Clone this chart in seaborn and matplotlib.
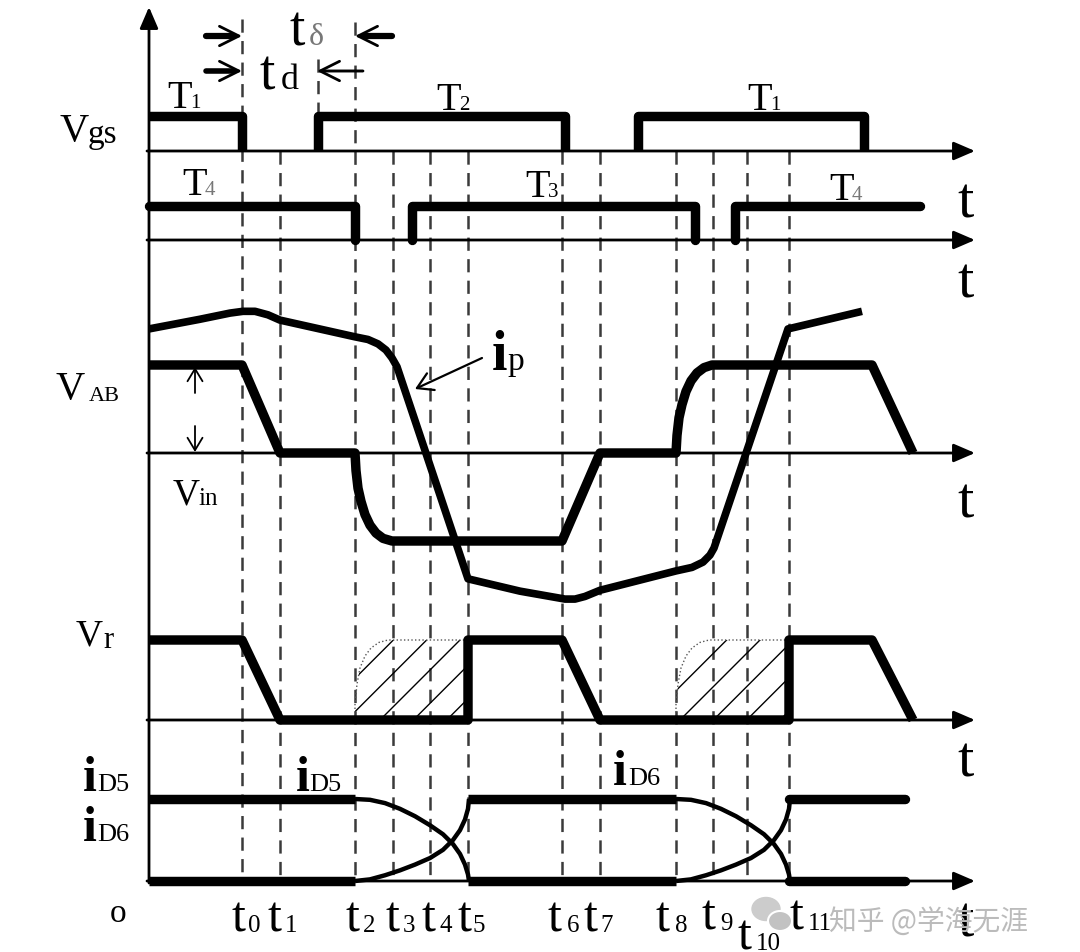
import matplotlib
matplotlib.use('Agg')
import matplotlib.pyplot as plt
from matplotlib.patches import Ellipse
import seaborn as sns

sns.set_style('white')
plt.rcParams['font.family'] = ['Liberation Serif', 'DejaVu Serif']
plt.rcParams['hatch.linewidth'] = 1.0
plt.rcParams['lines.scale_dashes'] = False

# ---------------- data ----------------
# time axis (figure units): origin, arrow tip and switching instants t0..t11
t_origin, t_tip = 149, 975
t_marks = [242, 280, 355, 393, 430, 468, 562, 600, 676, 713, 747, 789]
t_subs = ['0', '1', '2', '3', '4', '5', '6', '7', '8', '9', '10', '11']

# gate signals (level 0/1), one list per pulse
gate1_t = [[149, 242, 242], [318, 318, 565, 565], [638, 638, 864, 864]]
gate1_v = [[1, 1, 0], [0, 1, 1, 0], [0, 1, 1, 0]]
gate2_t = [[149, 355, 355], [412, 412, 695, 695], [735, 735, 920]]
gate2_v = [[1, 1, 0], [0, 1, 1, 0], [0, 1, 1]]

# bridge voltage V_AB (+1 / -1 = +-Vin)
vab_t = [149, 242, 280, 355, 356, 358, 361, 365, 370, 376, 383, 392,
         562, 600, 676, 677, 679, 682, 686, 691, 697, 704, 712, 872, 913]
vab_v = [1, 1, 0, 0, -0.2, -0.4, -0.55, -0.7, -0.82, -0.91, -0.97, -1,
         -1, 0, 0, 0.2, 0.4, 0.55, 0.7, 0.82, 0.91, 0.97, 1, 1, 0]

# primary current i_p (same units as V_AB)
ip_t = [149, 200, 230, 243, 255, 268, 280, 355, 368, 378, 386, 392, 397,
        468, 520, 565, 575, 585, 600, 676, 692, 703, 710, 714, 788, 862]
ip_v = [1.41, 1.52, 1.59, 1.61, 1.61, 1.57, 1.51, 1.32, 1.29, 1.24, 1.17, 1.08, 0.98,
        -1.43, -1.57, -1.66, -1.66, -1.63, -1.56, -1.34, -1.30, -1.24, -1.16, -1.08,
        1.41, 1.61]

# rectified voltage V_r
vr_t = [149, 242, 280, 468, 468, 562, 600, 789, 789, 872, 913]
vr_v = [1, 1, 0, 0, 1, 1, 0, 0, 1, 1, 0]
# hatched commutation area (offset from t2 / t8)
hatch_dt = [0, 0, 2, 5, 10, 16, 24, 33, 113, 113]
hatch_v = [0, 0.2, 0.45, 0.65, 0.8, 0.9, 0.97, 1, 1, 0]
hatch_from = [355, 676]

# rectifier diode currents
id_flat_t = [[149, 355], [468, 676], [789, 905]]
id5_flat_v = [1, 0, 1]
id6_flat_v = [0, 1, 0]
curve_dt = [0, 15, 30, 45, 60, 75, 88, 98, 105, 110, 113, 114]
curve_fall = [1, 0.99, 0.95, 0.88, 0.79, 0.68, 0.57, 0.45, 0.33, 0.20, 0.08, 0]
curve_rise = [0, 0.02, 0.07, 0.13, 0.20, 0.28, 0.38, 0.50, 0.62, 0.75, 0.88, 1]
curve_from = [355, 676]

# ---------------- layout (figure pixels) ----------------
G1_Y0, G1_H = 152, 35
G2_Y0, G2_H = 241, 34
VAB_Y0, VAB_H = 454, 88
VR_Y0, VR_H = 721, 80
ID_Y0, ID_H = 882, 82
AXES_Y = [G1_Y0, G2_Y0, VAB_Y0, VR_Y0, ID_Y0]
THICK = 6.8


def to_y(levels, y0, h):
    return [y0 - v * h for v in levels]


fig = plt.figure(figsize=(10.8, 9.53), dpi=100)
ax = fig.add_axes([0, 0, 1, 1])


def trace(xs, ys, lw=THICK, cap='butt', **kw):
    sns.lineplot(x=xs, y=ys, ax=ax, sort=False, estimator=None, color='black',
                 linewidth=lw, solid_joinstyle='round', solid_capstyle=cap,
                 zorder=4, legend=False, **kw)


# dashed time markers
dash_top = [20, 152, 23, 152, 152, 152, 152, 152, 152, 152, 152, 152]
ax.vlines(t_marks, dash_top, ID_Y0, colors='#3a3a3a', linestyles=(0, (9.5, 6)),
          lw=1.8, zorder=1)
ax.vlines([318], 60, 117, colors='#3a3a3a', linestyles=(0, (9.5, 6)), lw=1.8, zorder=1)

# axes with arrow heads
arrow = dict(arrowstyle='-|>,head_length=0.65,head_width=0.28', lw=2, color='black',
             shrinkA=0, shrinkB=0, mutation_scale=20)
for y in AXES_Y:
    ax.annotate('', xy=(t_tip, y), xytext=(t_origin - 2, y), arrowprops=arrow, zorder=2)
ax.annotate('', xy=(t_origin, 8), xytext=(t_origin, ID_Y0 + 2), arrowprops=arrow, zorder=2)

# gate signals
for xs, vs in zip(gate1_t, gate1_v):
    trace(xs, to_y(vs, G1_Y0, G1_H))
for xs, vs in zip(gate2_t, gate2_v):
    trace(xs, to_y(vs, G2_Y0, G2_H), cap='round')

# V_AB and i_p
trace(vab_t, to_y(vab_v, VAB_Y0, VAB_H))
trace(ip_t, to_y(ip_v, VAB_Y0, VAB_H), lw=5.5)

# V_r with hatched areas
trace(vr_t, to_y(vr_v, VR_Y0, VR_H))
for t0 in hatch_from:
    hx = [t0 + d for d in hatch_dt]
    hy = to_y(hatch_v, VR_Y0, VR_H)
    ax.fill(hx, hy, facecolor='none', edgecolor='black', hatch='/', lw=0, zorder=3)
    ax.plot(hx[:-1], hy[:-1], color='#555555', lw=1.0, ls=':', zorder=3)

# diode currents
for xs, v5, v6 in zip(id_flat_t, id5_flat_v, id6_flat_v):
    cap = 'round' if xs[1] > 900 else 'butt'
    trace(xs, to_y([v5, v5], ID_Y0, ID_H), cap=cap)
    trace(xs, to_y([v6, v6], ID_Y0, ID_H), cap=cap)
for t0 in curve_from:
    cx = [t0 + d for d in curve_dt]
    trace(cx, to_y(curve_fall, ID_Y0, ID_H), lw=3.2)
    trace(cx, to_y(curve_rise, ID_Y0, ID_H), lw=3.2)


# ---------------- text ----------------
def put(x, y, s, size, color='black', weight='normal', **kw):
    ax.text(x, y, s, fontsize=size, color=color, fontweight=weight,
            ha='left', va='baseline', zorder=6, **kw)


# signal names on the left
put(60, 141, 'V', 29); put(88, 143, 'gs', 24)
put(55, 399, 'V', 29); put(89, 401, 'AB', 16)
put(173, 505, 'V', 27); put(198, 505, 'in', 18)
put(76, 646, 'V', 27); put(103, 648, 'r', 22)
put(83, 791, 'i', 36, weight='bold'); put(97, 791, 'D5', 19)
put(83, 841, 'i', 36, weight='bold'); put(97, 841, 'D6', 19)
put(110, 922, 'o', 24)
put(296, 791, 'i', 36, weight='bold'); put(309, 791, 'D5', 19)
put(613, 785, 'i', 36, weight='bold'); put(628, 785, 'D6', 19)
put(492, 370, 'i', 40, weight='bold'); put(507, 370, 'p', 24)

# switch names over gate pulses
gate_labels = [(167, 108, '1', 'black'), (436, 110, '2', 'black'), (747, 110, '1', 'black'),
               (182, 195, '4', '#777777'), (525, 197, '3', 'black'), (829, 200, '4', '#777777')]
for x, y, sub, col in gate_labels:
    put(x, y, 'T', 29)
    put(x + 23, y, sub, 15, color=col)

# time axis captions
for y in [217, 298, 518, 777, 937]:
    put(957, y, 't', 42)

# dead-time arrows
head = dict(arrowstyle='->,head_length=0.7,head_width=0.35', lw=2, color='black',
            shrinkA=0, shrinkB=0, mutation_scale=20)
for y, x0, x1, lw in [(37, 206, 242, 4.5), (72, 206, 242, 4.0),
                      (37, 392, 355, 4.5), (72, 363, 317, 1.6)]:
    stop = x1 - 8 if x1 > x0 else x1 + 8
    ax.plot([x0, stop], [y, y], color='black', lw=lw, solid_capstyle='round', zorder=5)
    ax.annotate('', xy=(x1, y), xytext=(x0, y), arrowprops=head, zorder=5)
put(289, 46, 't', 40); put(309, 45, 'δ', 23, color='#777777')
put(259, 90, 't', 40); put(281, 89, 'd', 26)

# Vin dimension arrows and i_p pointer
thin = dict(arrowstyle='->,head_length=0.5,head_width=0.3', lw=1.3, color='black',
            shrinkA=0, shrinkB=0, mutation_scale=18)
ax.annotate('', xy=(195, 368), xytext=(195, 394), arrowprops=thin, zorder=5)
ax.annotate('', xy=(195, 453), xytext=(195, 427), arrowprops=thin, zorder=5)
ax.annotate('', xy=(415, 390), xytext=(482, 359),
            arrowprops=dict(thin, lw=1.6, mutation_scale=22), zorder=5)

# t0..t11 under the bottom axis
sub_shift = [17, 17, 18, 18, 18, 15, 19, 17, 20, 18, 19, 18]
base = [932] * 9 + [930, 950, 930]
t_left = [231, 268, 345, 385, 422, 458, 548, 583, 655, 702, 737, 790]
for x, dx, y, s in zip(t_left, sub_shift, base, t_subs):
    put(x, y, 't', 36)
    put(x + dx, y, s, 18)

# watermark
ax.add_patch(Ellipse((766, 910), 28, 23, color='#cccccc', zorder=7))
ax.add_patch(Ellipse((780, 922), 24, 20, facecolor='#c2c2c2', edgecolor='white', lw=1.5, zorder=7))
ax.text(829, 930, '知乎 @学海无涯', fontsize=20, color='#bbbbbb', ha='left', va='baseline',
        family=['Noto Sans CJK SC', 'DejaVu Sans'], zorder=8)

ax.set_xlim(0, 1080)
ax.set_ylim(953, 0)
ax.axis('off')
fig.savefig('out.png', dpi=100)
